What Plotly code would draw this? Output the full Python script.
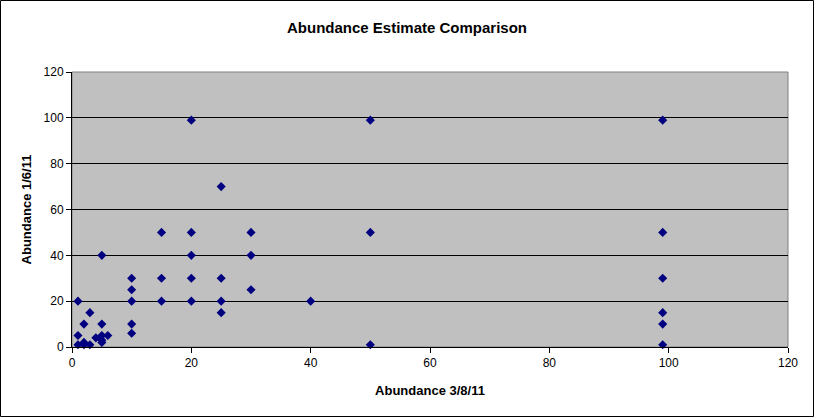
import plotly.graph_objects as go

# abundance estimates, 3/8/11 (x) vs 1/6/11 (y)
abund_3_8_11 = [1, 1, 1, 2, 2, 2, 3, 3, 4, 5, 5, 5, 5, 5, 6,
                10, 10, 10, 10, 10, 15, 15, 15,
                20, 20, 20, 20, 20, 25, 25, 25, 25, 30, 30, 30, 40,
                50, 50, 50, 99, 99, 99, 99, 99, 99]
abund_1_6_11 = [20, 5, 1, 10, 2, 1, 15, 1, 4, 40, 10, 5, 3, 2, 5,
                30, 25, 20, 10, 6, 50, 30, 20,
                99, 50, 40, 30, 20, 70, 30, 20, 15, 50, 40, 25, 20,
                99, 50, 1, 99, 50, 30, 15, 10, 1]

W, H = 814, 417
L, R, T, B = 72, 26, 72, 70
pw, ph = W - L - R, H - T - B

fig = go.Figure()
fig.add_trace(go.Scatter(
    x=abund_3_8_11, y=abund_1_6_11, mode="markers",
    marker=dict(symbol="diamond", size=7, color="#000080"),
    showlegend=False, cliponaxis=False,
))

axis_font = dict(family="Liberation Sans, Arial", size=12, color="black")
title_font = dict(family="Liberation Sans, Arial", size=13, color="black")

fig.update_layout(
    width=W, height=H,
    margin=dict(l=L, r=R, t=T, b=B),
    paper_bgcolor="white",
    plot_bgcolor="#C0C0C0",
    title=dict(text="<b>Abundance Estimate Comparison</b>", x=0.5, xanchor="center",
               y=1 - 28 / H, yanchor="middle",
               font=dict(family="Liberation Sans, Arial", size=15, color="black")),
    xaxis=dict(range=[0, 120], tickvals=list(range(0, 121, 20)),
               showgrid=False, zeroline=False,
               showline=True, linecolor="black", linewidth=1,
               ticks="outside", ticklen=5, tickcolor="black",
               tickfont=axis_font,
               title=dict(text="<b>Abundance 3/8/11</b>", font=title_font, standoff=16)),
    yaxis=dict(range=[0, 120], tickvals=list(range(0, 121, 20)),
               showgrid=True, gridcolor="black", gridwidth=1, zeroline=False,
               showline=True, linecolor="black", linewidth=1,
               ticks="outside", ticklen=5, tickcolor="black",
               tickfont=axis_font,
               title=dict(text="<b>Abundance 1/6/11</b>", font=title_font, standoff=9)),
    shapes=[
        # grey plot-area frame (top/right visible)
        dict(type="rect", xref="paper", yref="paper", x0=0, x1=1, y0=0, y1=1,
             line=dict(color="#808080", width=1), layer="below"),
        # outer chart border
        dict(type="rect", xref="paper", yref="paper",
             x0=(0.5 - L) / pw, x1=(W - 0.5 - L) / pw,
             y0=-(B - 0.5) / ph, y1=(T + ph - 0.5) / ph,
             line=dict(color="black", width=1), layer="below"),
    ],
)

# drop the browser's default body margin so the chart sits at 0,0
fig.write_html("out.html", config={"displayModeBar": False},
               post_script="document.body.style.margin='0';")
